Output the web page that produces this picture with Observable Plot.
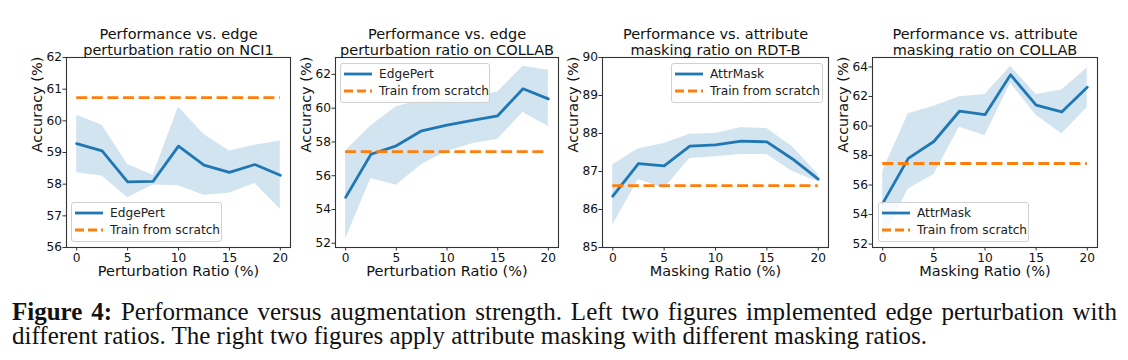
<!DOCTYPE html>
<html>
<head>
<meta charset="utf-8">
<script src="https://cdn.jsdelivr.net/npm/d3@7"></script>
<script src="https://cdn.jsdelivr.net/npm/@observablehq/plot@0.6"></script>
<style>
  body { margin: 0; background: white; }
  #wrap { position: relative; width: 1128px; height: 360px; overflow: hidden; background: white; }
  .panel { position: absolute; top: 0; }
  .legend { position: absolute; border: 1px solid #d0d0d0; border-radius: 3px; background: rgba(255,255,255,0.8);
            font-family: "DejaVu Sans"; font-size: 12.2px; color: #222; box-sizing: border-box; }
  .legend .row { position: absolute; left: 3px; height: 16px; display: flex; align-items: center; white-space: nowrap; }
  .legend svg { margin-right: 7px; }
  .caption { position: absolute; left: 12px; width: 1105px; font-family: "Liberation Serif"; font-size: 25px; color: #111; line-height: 24px; white-space: nowrap; }
</style>
</head>
<body>
<div id="wrap"></div>
<script>
// ---- data ----
const ratios = [0, 2.5, 5, 7.5, 10, 12.5, 15, 17.5, 20];
const xTicks = [0, 5, 10, 15, 20];

const nci1EdgeMean = [59.28, 59.05, 58.07, 58.09, 59.20, 58.60, 58.37, 58.62, 58.28];
const nci1EdgeHigh = [60.18, 59.86, 58.62, 58.28, 60.44, 59.57, 59.05, 59.23, 59.36];
const nci1EdgeLow  = [58.36, 58.26, 57.57, 57.97, 57.95, 57.65, 57.71, 58.02, 57.21];
const nci1Scratch = 60.73;
const nci1Ticks = [56, 57, 58, 59, 60, 61, 62];

const collabEdgeMean = [54.72, 57.27, 57.77, 58.66, 59.00, 59.28, 59.55, 61.15, 60.55];
const collabEdgeHigh = [57.47, 58.96, 60.09, 60.49, 60.55, 60.65, 60.95, 62.48, 62.24];
const collabEdgeLow  = [52.26, 55.84, 55.44, 56.67, 57.43, 57.90, 58.16, 59.75, 58.92];
const collabEdgeScratch = 57.43;
const collabEdgeTicks = [52, 54, 56, 58, 60, 62];

const rdtbMaskMean = [86.35, 87.21, 87.15, 87.67, 87.70, 87.80, 87.78, 87.33, 86.80];
const rdtbMaskHigh = [87.18, 87.60, 87.74, 87.98, 88.00, 88.16, 88.13, 87.65, 86.92];
const rdtbMaskLow  = [85.59, 86.79, 86.55, 87.34, 87.39, 87.45, 87.45, 87.00, 86.73];
const rdtbScratch = 86.63;
const rdtbTicks = [85, 86, 87, 88, 89, 90];

const collabMaskMean = [54.76, 57.81, 58.95, 61.00, 60.77, 63.47, 61.41, 60.95, 62.62];
const collabMaskHigh = [56.94, 60.83, 61.34, 61.98, 62.14, 64.05, 62.14, 62.44, 63.93];
const collabMaskLow  = [52.35, 55.74, 56.71, 59.92, 59.34, 62.90, 60.72, 59.46, 61.25];
const collabMaskScratch = 57.46;
const collabMaskTicks = [52, 54, 56, 58, 60, 62, 64];

const titles = [
  "Performance vs. edge\nperturbation ratio on NCI1",
  "Performance vs. edge\nperturbation ratio on COLLAB",
  "Performance vs. attribute\nmasking ratio on RDT-B",
  "Performance vs. attribute\nmasking ratio on COLLAB"
];
const xLabels = ["Perturbation Ratio (%)", "Perturbation Ratio (%)", "Masking Ratio (%)", "Masking Ratio (%)"];
const yLabel = "Accuracy (%)";
const seriesNames = ["EdgePert", "EdgePert", "AttrMask", "AttrMask"];
const scratchName = "Train from scratch";
const captionBold = "Figure 4:";
const captionLine1 = " Performance versus augmentation strength. Left two figures implemented edge perturbation with";
const captionLine2 = "different ratios. The right two figures apply attribute masking with different masking ratios.";

// ---- layout ----
const BLUE = "#1f77b4", ORANGE = "#ff7f0e", AXIS = "#333";
const panels = [
  {mean: nci1EdgeMean, hi: nci1EdgeHigh, lo: nci1EdgeLow, scratch: nci1Scratch, ticks: nci1Ticks, yDomain: [56, 62],
   left: 0, width: 300, ml: 66, mr: 10, legend: {left: 71, top: 202, width: 151, height: 40}},
  {mean: collabEdgeMean, hi: collabEdgeHigh, lo: collabEdgeLow, scratch: collabEdgeScratch, ticks: collabEdgeTicks, yDomain: [51.75, 63.0],
   left: 290, width: 278, ml: 45, mr: 10, legend: {left: 340, top: 63, width: 150, height: 40}},
  {mean: rdtbMaskMean, hi: rdtbMaskHigh, lo: rdtbMaskLow, scratch: rdtbScratch, ticks: rdtbTicks, yDomain: [85, 90],
   left: 568, width: 270, ml: 34, mr: 10, legend: {left: 671, top: 63, width: 152, height: 40}},
  {mean: collabMaskMean, hi: collabMaskHigh, lo: collabMaskLow, scratch: collabMaskScratch, ticks: collabMaskTicks, yDomain: [51.77, 64.64],
   left: 838, width: 290, ml: 34, mr: 31, legend: {left: 878, top: 202, width: 151, height: 40}}
];

const wrap = document.getElementById("wrap");

panels.forEach((p, i) => {
  const rows = ratios.map((x, j) => ({x, mean: p.mean[j], hi: p.hi[j], lo: p.lo[j]}));
  const chart = Plot.plot({
    width: p.width,
    height: 290,
    marginLeft: p.ml,
    marginRight: p.mr,
    marginTop: 57,
    marginBottom: 43,
    style: {fontFamily: "DejaVu Sans", background: "transparent", overflow: "visible", color: "#111"},
    x: {domain: [-1, 21]},
    y: {domain: p.yDomain},
    marks: [
      Plot.areaY(rows, {x: "x", y1: "lo", y2: "hi", fill: BLUE, fillOpacity: 0.2}),
      Plot.lineY(rows, {x: "x", y: "mean", stroke: BLUE, strokeWidth: 2.8}),
      Plot.ruleY([p.scratch], {x1: ratios[0], x2: ratios[ratios.length - 1], stroke: ORANGE, strokeWidth: 2.8, strokeDasharray: "11,4.6"}),
      Plot.frame({stroke: AXIS, strokeWidth: 1.1}),
      Plot.axisX({ticks: xTicks, tickFormat: d3.format("d"), tickSize: 3.5, tickPadding: 2, fontSize: 12.2, stroke: AXIS, label: null}),
      Plot.axisY({ticks: p.ticks, tickFormat: d3.format("d"), tickSize: 3.5, tickPadding: 1, fontSize: 12.2, stroke: AXIS, label: null}),
      Plot.text([xLabels[i]], {frameAnchor: "bottom", lineAnchor: "top", dy: 18, fontSize: 14.5, fill: "#111"}),
      Plot.text([yLabel], {frameAnchor: "left", rotate: -90, lineAnchor: "middle", dx: -29, fontSize: 14.5, fill: "#111"}),
      Plot.text([titles[i]], {frameAnchor: "top", lineAnchor: "bottom", dy: -3, fontSize: 14.5, lineHeight: 1.07, fill: "#111"})
    ]
  });
  chart.classList.add("panel");
  chart.style.left = p.left + "px";
  wrap.appendChild(chart);

  // legend
  const lg = document.createElement("div");
  lg.className = "legend";
  Object.assign(lg.style, {left: p.legend.left + "px", top: p.legend.top + "px", width: p.legend.width + "px", height: p.legend.height + "px"});
  const entries = [
    {name: seriesNames[i], color: BLUE, dash: null},
    {name: scratchName, color: ORANGE, dash: "9,4"}
  ];
  entries.forEach((e, k) => {
    const row = document.createElement("div");
    row.className = "row";
    row.style.top = (2 + k * 17) + "px";
    row.innerHTML = `<svg width="28" height="6"><line x1="0" x2="28" y1="3" y2="3" stroke="${e.color}" stroke-width="2.8" ${e.dash ? `stroke-dasharray="${e.dash}"` : ""}/></svg><span>${e.name}</span>`;
    lg.appendChild(row);
  });
  wrap.appendChild(lg);
});

// caption
const c1 = document.createElement("div");
c1.className = "caption";
c1.style.top = "300px";
c1.style.textAlign = "justify";
c1.style.textAlignLast = "justify";
c1.style.whiteSpace = "normal";
c1.innerHTML = `<b>${captionBold}</b>${captionLine1}`;
wrap.appendChild(c1);
const c2 = document.createElement("div");
c2.className = "caption";
c2.style.top = "324px";
c2.textContent = captionLine2;
wrap.appendChild(c2);
</script>
</body>
</html>
